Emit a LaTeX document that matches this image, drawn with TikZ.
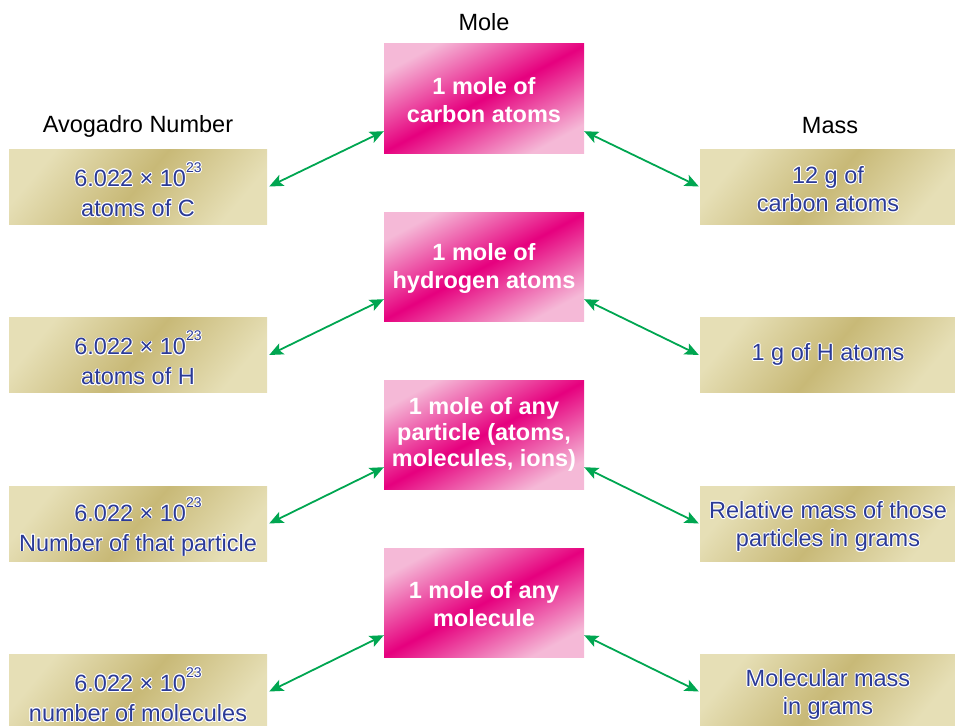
\documentclass[tikz,border=0pt]{standalone}
\usepackage{fontspec}
\setmainfont{Liberation Sans}
\usepackage{contour}
\contourlength{0.8pt}
\usetikzlibrary{calc,arrows.meta}
\definecolor{tanL}{HTML}{E6DFB6}
\definecolor{tanD}{HTML}{C8B977}
\definecolor{pinkL}{HTML}{F5B9D7}
\definecolor{pinkD}{HTML}{E6007E}
\definecolor{txtblue}{HTML}{2B3A97}
\definecolor{arrgreen}{HTML}{00A651}
\newcommand\ct[1]{\contour{white}{#1}}
\newcommand\avo{\rule{0pt}{31pt}\ct{6.022 × 10\raisebox{14pt}{\fontsize{14}{14}\selectfont 23}}}
\tikzset{
  tanbox/.style={minimum width=258pt, minimum height=75pt, inner sep=0pt,
    left color=tanL, right color=tanL, middle color=tanD, shading angle=50,
    text=txtblue, align=center, font=\fontsize{23.5}{28}\selectfont},
  rtanbox/.style={tanbox, minimum width=256pt},
  pinkbox/.style={minimum width=200pt, minimum height=109pt, inner sep=0pt,
    top color=pinkL, bottom color=pinkL, middle color=pinkD, shading angle=28,
    text=white, align=center, font=\fontsize{23.5}{28}\bfseries\selectfont},
  head/.style={font=\fontsize{23.5}{28}\selectfont, text=black, inner sep=0pt},
  arr/.style={draw=arrgreen, line width=1.8pt,
    {Stealth[length=14pt,width=12pt,inset=3pt]}-{Stealth[length=14pt,width=12pt,inset=3pt]}}
}
\begin{document}
\begin{tikzpicture}[x=1pt,y=-1pt]
\useasboundingbox (0,0) rectangle (955,725);
\clip (0,0) rectangle (955,725);
% headings
\node[head] (hm) at (484,22) {Mole};
\node[head] (ha) at (138,126) {Avogadro Number};
\node[head] (hs) at (830,126) {Mass};
% middle boxes
\node[pinkbox] (M1) at (484,98.5) {\rule{0pt}{20pt}1 mole of\\carbon atoms};
\node[pinkbox] (M2) at (484,266.5) {\rule{0pt}{20pt}1 mole of\\hydrogen atoms};
\node[pinkbox, font=\fontsize{23.5}{26}\bfseries\selectfont] (M3) at (484,434.5) {1 mole of any\\particle (atoms,\\molecules, ions)};
\node[pinkbox] (M4) at (484,602.5) {\rule{0pt}{20pt}1 mole of any\\molecule};
% left boxes
\node[tanbox] (L1) at (138,186.5) {\avo\\[2pt]\ct{atoms of C}};
\node[tanbox] (L2) at (138,355) {\avo\\[2pt]\ct{atoms of H}};
\node[tanbox] (L3) at (138,523.5) {\avo\\[2pt]\ct{Number of that particle}};
\node[tanbox] (L4) at (138,691.5) {\avo\\[2pt]\ct{number of molecules}};
% right boxes
\node[rtanbox] (R1) at (828,186.5) {\rule{0pt}{23pt}\ct{12 g of}\\\ct{carbon atoms}};
\node[rtanbox] (R2) at (828,355) {\ct{1 g of H atoms}};
\node[rtanbox] (R3) at (828,523.5) {\rule{0pt}{24pt}\ct{Relative mass of those}\\\ct{particles in grams}};
\node[rtanbox] (R4) at (828,691.5) {\rule{0pt}{24pt}\ct{Molecular mass}\\\ct{in grams}};
% arrows
\foreach \i in {1,2,3,4}{
  \draw[arr] ($(L\i.east)+(2,0)$) -- ($(M\i.south west)+(0,-22)$);
  \draw[arr] ($(M\i.south east)+(0,-22)$) -- ($(R\i.west)+(-1,0)$);
}
\end{tikzpicture}
\end{document}
